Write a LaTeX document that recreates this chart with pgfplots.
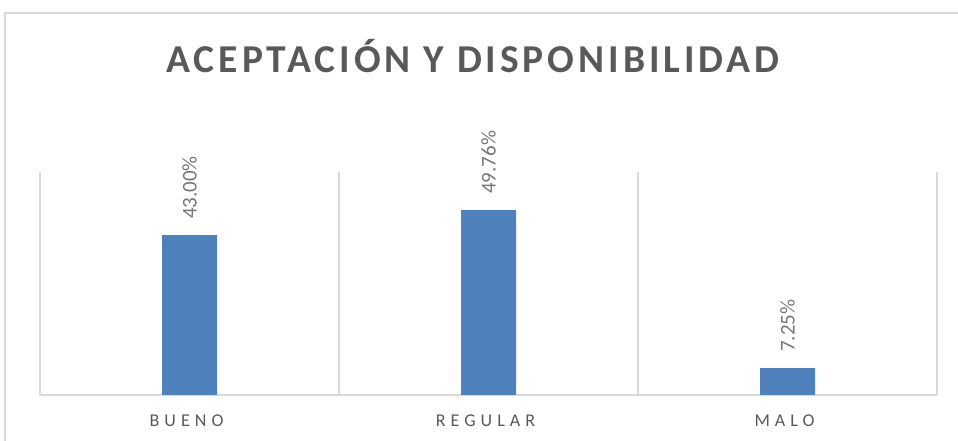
\documentclass[border=0pt]{standalone}
\usepackage{pgfplots}
\pgfplotsset{compat=1.18}
\usepackage{fontspec}
\setmainfont{Carlito}
\newfontfamily\titlefont{Carlito}[LetterSpace=10]
\newfontfamily\catfont{Carlito}[LetterSpace=28]
\definecolor{barblue}{HTML}{4F81BD}
\definecolor{titlegray}{HTML}{595959}
\definecolor{labgray}{HTML}{767676}
\definecolor{gridgray}{HTML}{D9D9D9}
\begin{document}
\begin{tikzpicture}[x=1pt,y=1pt]
\useasboundingbox (0,0) rectangle (958,441);
\draw[gridgray, line width=1.5pt] (5,0) -- (5,428) -- (958,428);
\node[anchor=base, text=titlegray, font=\titlefont\bfseries\fontsize{39.5}{46}\selectfont] at (473,368) {ACEPTACIÓN Y DISPONIBILIDAD};
\begin{axis}[
  at={(40pt,46pt)}, anchor=south west,
  scale only axis, width=897pt, height=223pt,
  xmin=-0.5, xmax=2.5, ymin=0, ymax=60,
  axis line style={draw=none},
  axis x line*=bottom, axis y line=none,
  x axis line style={draw=gridgray, line width=1.5pt},
  xtick={0,1,2}, xticklabels={BUENO,REGULAR,MALO},
  major tick length=0pt,
  xticklabel style={anchor=base, yshift=-32pt, xshift=-3pt, text=titlegray, font=\catfont\fontsize{18}{20}\selectfont},
  extra x ticks={-0.5,0.5,1.5,2.5}, extra x tick labels={},
  extra x tick style={grid=major, major grid style={gridgray, line width=1.5pt}, major tick length=0pt},
  ybar, bar width=55pt,
  /pgf/number format/assume math mode=true,
  nodes near coords={\pgfmathprintnumber[fixed,fixed zerofill,precision=2]{\pgfplotspointmeta}\%},
  every node near coord/.append style={rotate=90, anchor=west, inner sep=0pt, inner xsep=16pt, text=labgray, font=\fontsize{21}{24}\selectfont},
  clip=false,
]
\addplot[fill=barblue, draw=none] coordinates {(0,43.00) (1,49.76) (2,7.25)};
\end{axis}
\end{tikzpicture}
\end{document}
